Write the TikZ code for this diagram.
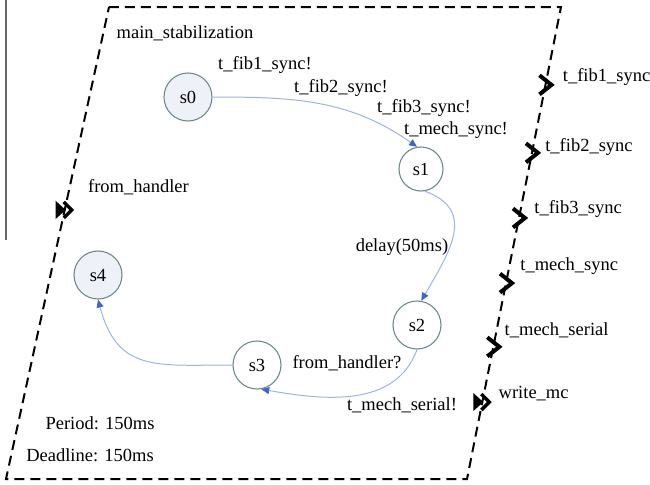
\documentclass[tikz,border=0pt]{standalone}
\usepackage{fontspec}
\setmainfont{Liberation Serif}
\usetikzlibrary{arrows.meta, positioning, calc}
\definecolor{stateLine}{HTML}{6F8A8E}
\definecolor{stateFill}{HTML}{EEF2F8}
\definecolor{edgeBlue}{HTML}{9DB3E6}
\definecolor{tipBlue}{HTML}{4266C6}
\tikzset{
  state/.style={circle, draw=stateLine, line width=0.55pt, minimum size=24pt, inner sep=0pt},
  shaded/.style={state, fill=stateFill},
  trans/.style={draw=edgeBlue, line width=0.5pt, -{Triangle[length=4pt, width=3.5pt, color=tipBlue]}},
  port/.style={anchor=west, inner sep=0pt},
  outport/.pic={\draw[line width=2pt] (-6,9.5) -- (6,0) -- (-6,-9.5);},
  inport/.pic={\fill (-9,9) -- (1,0) -- (-9,-9) -- cycle;
               \draw[line width=1.7pt] (-1,8) -- (7,0) -- (-1,-8);}
}

\begin{document}
\begin{tikzpicture}[x=0.5pt, y=0.5pt, every node/.style={font=\fontsize{9.25}{11}\selectfont}]
    \useasboundingbox (0,0) rectangle (650,484);
    \draw[black!60, line width=0.7pt] (6,484) -- (6,244);

    % template frame
    \coordinate (tl) at (109,477);
    \coordinate (tr) at (561,477);
    \coordinate (br) at (467,5);
    \coordinate (bl) at (6,5);
    \draw[line width=1pt, dash pattern=on 5pt off 3pt] (tl) -- (tr) -- (br) -- (bl) -- cycle;
    \node (title) at (185,451) {main\_stabilization};

    % locations
    \node[shaded] (s0) at (188,387) {s0};
    \node[state, minimum size=22pt] (s1) at (421,315) {s1};
    \node[state] (s2) at (417,159) {s2};
    \node[state] (s3) at (257,119) {s3};
    \node[shaded] (s4) at (98,209) {s4};

    % transitions
    \draw[trans] (s0.east) to[out=0, in=145] (s1.100);
    \draw[trans] (s1.-80) to[out=-20, in=60, looseness=1.3] (s2.80);
    \draw[trans] (s2.south) to[out=-110, in=-10] (s3.-80);
    \draw[trans] (s3.west) to[out=180, in=-75, looseness=1.3] (s4.south);

    \node (g1) at (265,419) {t\_fib1\_sync!};
    \node (g2) at (341,396) {t\_fib2\_sync!};
    \node (g3) at (424,376) {t\_fib3\_sync!};
    \node (g4) at (456,354) {t\_mech\_sync!};
    \node (d1) at (402,237) {delay(50ms)};
    \node (g5) at (347,121) {from\_handler?};
    \node (g6) at (402,79) {t\_mech\_serial!};
    \node (per) at (100,61) {Period: 150ms};
    \node (dl) at (90,29) {Deadline: 150ms};

    % ports
    \coordinate (pin) at ($(tl)!0.43!(bl)$);
    \pic at (pin) {inport};
    \node[port] (lin) at ($(pin)+(23,23)$) {from\_handler};

    \coordinate (p1) at ($(tr)!0.165!(br)$);
    \coordinate (p2) at ($(tr)!0.309!(br)$);
    \coordinate (p3) at ($(tr)!0.447!(br)$);
    \coordinate (p4) at ($(tr)!0.585!(br)$);
    \coordinate (p5) at ($(tr)!0.72!(br)$);
    \coordinate (p6) at ($(tr)!0.837!(br)$);
    \pic at (p1) {outport};
    \pic at (p2) {outport};
    \pic at (p3) {outport};
    \pic at (p4) {outport};
    \pic at (p5) {outport};
    \pic at (p6) {inport};
    \node[port] (l1) at ($(p1)+(17,8)$) {t\_fib1\_sync};
    \node[port] (l2) at ($(p2)+(13,6)$) {t\_fib2\_sync};
    \node[port] (l3) at ($(p3)+(15,9)$) {t\_fib3\_sync};
    \node[port] (l4) at ($(p4)+(14,17)$) {t\_mech\_sync};
    \node[port] (l5) at ($(p5)+(11,17)$) {t\_mech\_serial};
    \node[port] (l6) at ($(p6)+(16,9)$) {write\_mc};
\end{tikzpicture}
\end{document}
